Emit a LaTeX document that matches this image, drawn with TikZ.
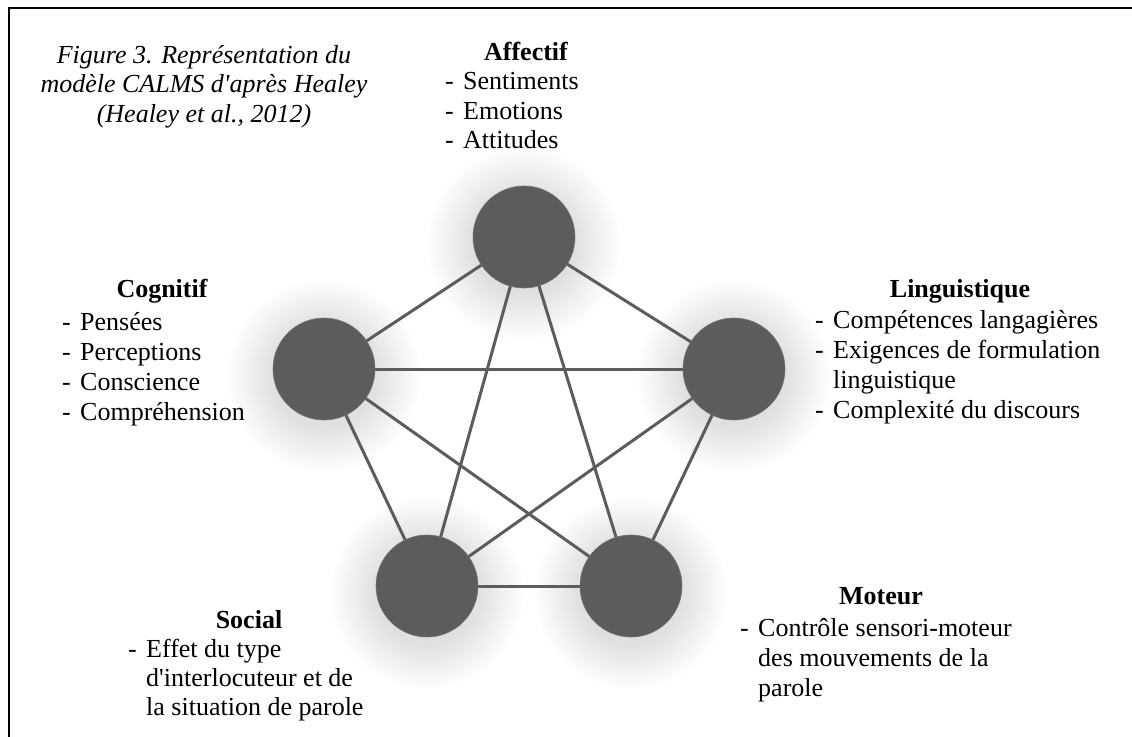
\documentclass[tikz,border=0pt]{standalone}
\usepackage{fontspec}
\setmainfont{Liberation Serif}[Ligatures=TeXOff]
\pgfdeclarelayer{glow}
\pgfdeclarelayer{edges}
\pgfsetlayers{glow,edges,main}
\newcommand{\itm}[1]{\makebox[18pt][l]{-}#1}
\newcommand{\cnt}[1]{\hspace*{18pt}#1}
\begin{document}
\begin{tikzpicture}[x=1pt,y=-1pt,inner sep=0pt,
  ball/.style={circle, fill=black!64, draw=black!55, line width=0.6pt, minimum size=102pt},
  link/.style={draw=black!64, line width=3pt},
  head/.style={anchor=base, font=\fontsize{26}{30}\selectfont\bfseries},
  item/.style={anchor=base west, font=\fontsize{26}{30}\selectfont},
  capt/.style={anchor=base, font=\fontsize{26}{30}\selectfont\itshape}]
\useasboundingbox (0,0) rectangle (1132,736);
\draw[line width=2pt] (9,737) -- (9,8) -- (1133,8);

% circles
\node[ball] (aff) at (524,237) {};
\node[ball] (cog) at (324,369) {};
\node[ball] (lin) at (734,369) {};
\node[ball] (soc) at (427,586) {};
\node[ball] (mot) at (631,586) {};

\begin{pgfonlayer}{glow}
\foreach \c in {aff,cog,lin,soc,mot}{
  \foreach \r in {52,53.5,...,98}{
    \fill[black, opacity=0.0055] ([yshift=-7pt]\c.center) circle (\r pt);
  }
}
\end{pgfonlayer}

\begin{pgfonlayer}{edges}
\draw[link] (aff.center) -- (cog.center);
\draw[link] (aff.center) -- (lin.center);
\draw[link] (aff.center) -- (soc.center);
\draw[link] (aff.center) -- (mot.center);
\draw[link] (cog.center) -- (lin.center);
\draw[link] (cog.center) -- (soc.center);
\draw[link] (cog.center) -- (mot.center);
\draw[link] (lin.center) -- (soc.center);
\draw[link] (lin.center) -- (mot.center);
\draw[link] (soc.center) -- (mot.center);
\end{pgfonlayer}

% caption
\node[capt] (cap1) at (204,63) {Figure 3. Représentation du};
\node[capt] (cap2) at (204,92.5) {modèle CALMS d'après Healey};
\node[capt] (cap3) at (204,122) {(Healey et al., 2012)};

% Affectif
\node[head] (affh) at (526,60) {Affectif};
\node[item] (aff1) at (445,89.5) {\itm{Sentiments}};
\node[item] (aff2) at (445,119) {\itm{Emotions}};
\node[item] (aff3) at (445,148.5) {\itm{Attitudes}};

% Cognitif
\node[head] (cogh) at (162,297) {Cognitif};
\node[item] (cog1) at (62,330) {\itm{Pensées}};
\node[item] (cog2) at (62,360) {\itm{Perceptions}};
\node[item] (cog3) at (62,390) {\itm{Conscience}};
\node[item] (cog4) at (62,420) {\itm{Compréhension}};

% Linguistique
\node[head] (linh) at (960,297) {Linguistique};
\node[item] (lin1) at (815,328) {\itm{Compétences langagières}};
\node[item] (lin2) at (815,358) {\itm{Exigences de formulation}};
\node[item] (lin3) at (815,388) {\cnt{linguistique}};
\node[item] (lin4) at (815,418) {\itm{Complexité du discours}};

% Social
\node[head] (soch) at (249,628) {Social};
\node[item] (soc1) at (128,657) {\itm{Effet du type}};
\node[item] (soc2) at (128,686) {\cnt{d'interlocuteur et de}};
\node[item] (soc3) at (128,715) {\cnt{la situation de parole}};

% Moteur
\node[head] (moth) at (881,604) {Moteur};
\node[item] (mot1) at (740,636) {\itm{Contrôle sensori-moteur}};
\node[item] (mot2) at (740,666) {\cnt{des mouvements de la}};
\node[item] (mot3) at (740,696) {\cnt{parole}};
\end{tikzpicture}
\end{document}
